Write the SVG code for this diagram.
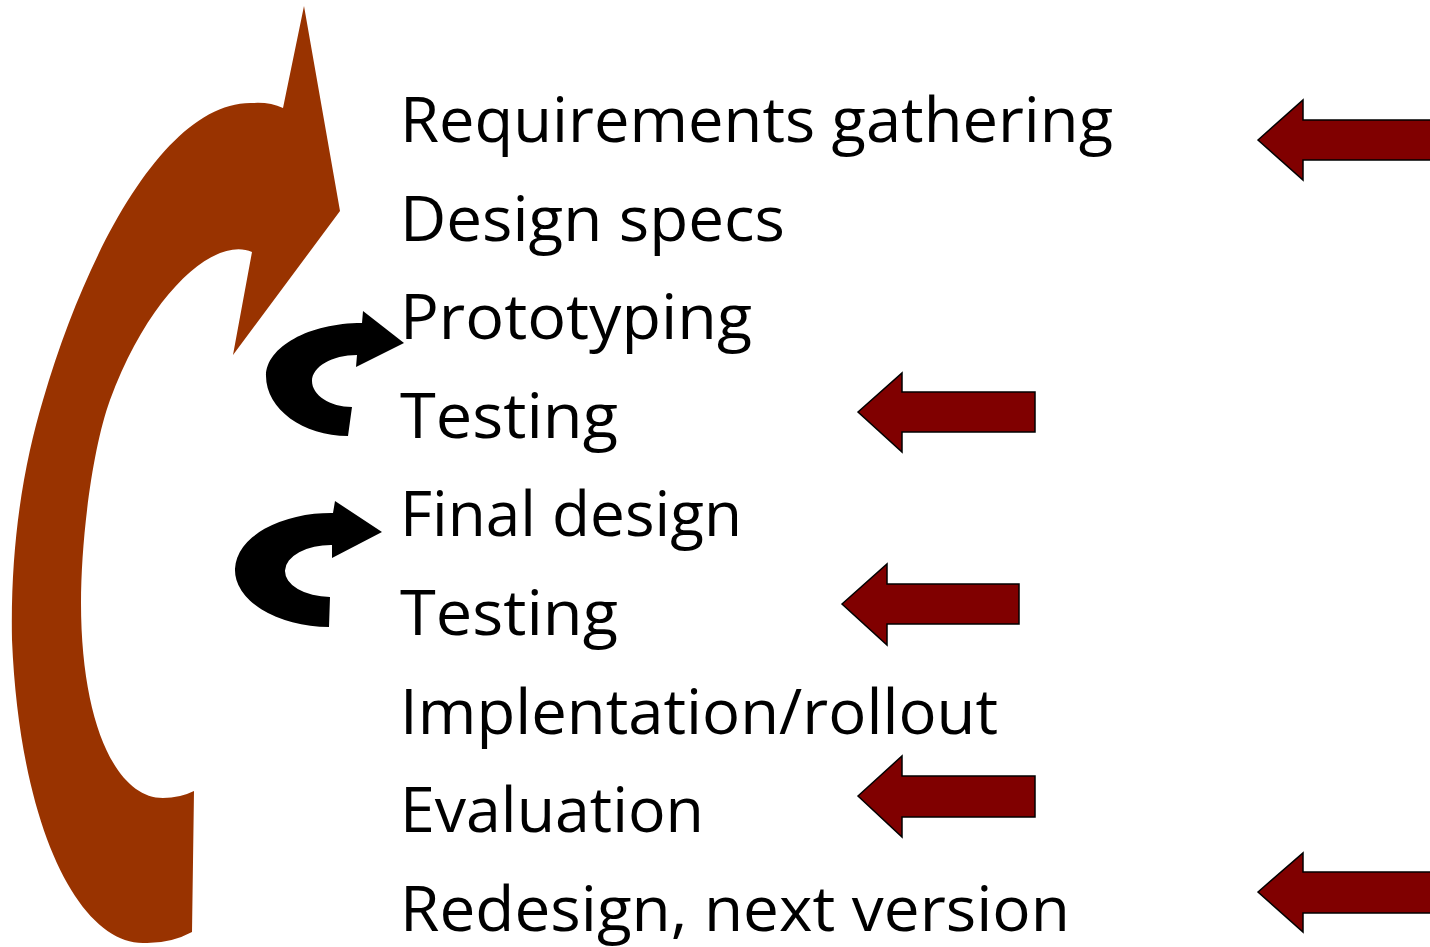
<svg xmlns="http://www.w3.org/2000/svg" width="1430" height="947" viewBox="0 0 1430 947">
  <style>
    .step { font-family: "Open Sans", "Liberation Sans", sans-serif; font-size: 62px; fill: #000; font-variant-ligatures: none; }
    .cycle { fill: #993300; }
    .loop { fill: #000; }
    .mark { fill: #800000; stroke: #000; stroke-width: 1.5; stroke-linejoin: miter; }
  </style>
  <rect width="1430" height="947" fill="#fff"/>

  <g id="connectors">
    <!-- big iteration arrow from the bottom back to the top -->
    <path id="cycle-arrow" class="cycle" d="M 304,6 L 340,211 L 233,355 L 252,252
      C 215,236 150,292 110,400
      C 92,450 81,540 81,603
      C 81,720 115,798 163,798
      Q 180,798 194,791
      L 192,932
      Q 170,944 143,943
      C 80,943 20,830 12,640
      C 10,540 25,460 43,400
      C 90,240 170,100 253,103
      Q 270,102 283,108 Z"/>

    <!-- small loop: prototyping / testing -->
    <path id="loop-1" class="loop" d="M 362,323 C 309,323 266,347 266,376 C 266,409 303,436 348,436 L 352,407 C 330,407 312,395 312,381 C 312,367 332,355 357,355 L 356,367 L 404,343 L 363,311 Z"/>
    <!-- small loop: final design / testing -->
    <path id="loop-2" class="loop" d="M 333,513 A 96 57 0 0 0 329,627 L 330,597 A 46 26 0 0 1 332,545 L 332,558 L 382,532 L 335,501 Z"/>

    <!-- pointer arrows -->
    <polygon id="mark-requirements" class="mark" points="1258,140 1303,100 1303,120 1432,120 1432,160 1303,160 1303,180"/>
    <polygon id="mark-testing-1" class="mark" points="858,412 902,373 902,392 1035,392 1035,432 902,432 902,452"/>
    <polygon id="mark-testing-2" class="mark" points="842,604 887,564 887,584 1019,584 1019,624 887,624 887,645"/>
    <polygon id="mark-evaluation" class="mark" points="858,796 902,756 902,776 1035,776 1035,817 902,817 902,837"/>
    <polygon id="mark-redesign" class="mark" points="1258,892 1303,853 1303,872 1432,872 1432,913 1303,913 1303,932"/>
  </g>

  <g id="step-requirements"><text class="step" x="400" y="142" textLength="713" lengthAdjust="spacingAndGlyphs">Requirements gathering</text></g>
  <g id="step-design"><text class="step" x="400" y="240.6" textLength="385" lengthAdjust="spacingAndGlyphs">Design specs</text></g>
  <g id="step-prototyping"><text class="step" x="400" y="339.2" textLength="352" lengthAdjust="spacingAndGlyphs">Prototyping</text></g>
  <g id="step-testing-1"><text class="step" x="400" y="437.8" textLength="218" lengthAdjust="spacingAndGlyphs">Testing</text></g>
  <g id="step-final"><text class="step" x="400" y="536.4" textLength="342" lengthAdjust="spacingAndGlyphs">Final design</text></g>
  <g id="step-testing-2"><text class="step" x="400" y="635" textLength="218" lengthAdjust="spacingAndGlyphs">Testing</text></g>
  <g id="step-implementation"><text class="step" x="400" y="733.6" textLength="598" lengthAdjust="spacingAndGlyphs">Implentation/rollout</text></g>
  <g id="step-evaluation"><text class="step" x="400" y="832.2" textLength="304" lengthAdjust="spacingAndGlyphs">Evaluation</text></g>
  <g id="step-redesign"><text class="step" x="400" y="930.8" textLength="670" lengthAdjust="spacingAndGlyphs">Redesign, next version</text></g>
</svg>
